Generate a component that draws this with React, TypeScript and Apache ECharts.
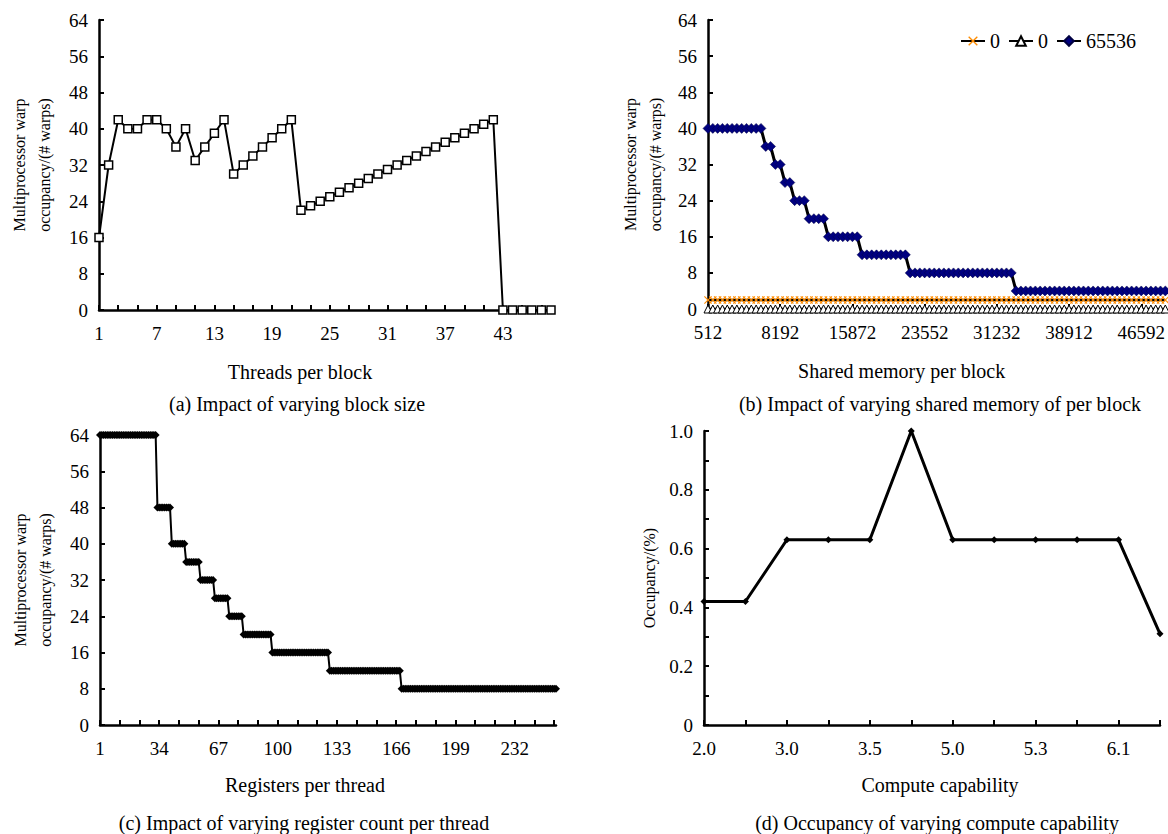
import React, { useEffect, useRef } from 'react';
import * as echarts from 'echarts';

// (a) Threads per block
const threadCategories = Array.from({ length: 48 }, (_, i) => String(i + 1));
const threadOccupancy = [
  16, 32, 42, 40, 40, 42, 42, 40, 36, 40, 33, 36, 39, 42, 30, 32, 34, 36, 38, 40, 42,
  22, 23, 24, 25, 26, 27, 28, 29, 30, 31, 32, 33, 34, 35, 36, 37, 38, 39, 40, 41, 42,
  0, 0, 0, 0, 0, 0,
];

// (b) Shared memory per block (run-length: [count, value])
const sharedCategories = Array.from({ length: 96 }, (_, i) => String(512 * (i + 1)));
const shared65536Steps: [number, number][] = [
  [12, 40], [2, 36], [2, 32], [2, 28], [3, 24], [4, 20], [7, 16], [10, 12], [22, 8], [32, 4],
];
const sharedZeroASteps: [number, number][] = [[96, 2]];
const sharedZeroBSteps: [number, number][] = [[96, 0]];

// (c) Registers per thread (run-length: [count, value])
const registerCategories = Array.from({ length: 255 }, (_, i) => String(i + 1));
const registerSteps: [number, number][] = [
  [32, 64], [8, 48], [8, 40], [8, 36], [8, 32], [8, 28], [8, 24], [16, 20], [32, 16], [40, 12], [87, 8],
];

// (d) Compute capability
const computeCategories = ['2.0', '2.1', '3.0', '3.2', '3.5', '3.7', '5.0', '5.2', '5.3', '6.0', '6.1', '6.2'];
const computeOccupancy = [0.42, 0.42, 0.63, 0.63, 0.63, 1.0, 0.63, 0.63, 0.63, 0.63, 0.63, 0.31];

const expand = (steps: [number, number][]) => {
  const out: number[] = [];
  steps.forEach(([n, v]) => {
    for (let i = 0; i < n; i++) out.push(v);
  });
  return out;
};

const FONT = 'Liberation Serif';
const crossPath = 'path://M0,1L1,0L5,4L9,0L10,1L6,5L10,9L9,10L5,6L1,10L0,9L4,5Z';

const axisLineStyle = { lineStyle: { color: '#000', width: 2.5 } };
const tickStyle = (interval?: number) => ({
  show: true,
  inside: true,
  length: 5,
  interval,
  lineStyle: { color: '#000', width: 2 },
});
const labelStyle = { color: '#000', fontFamily: FONT, fontSize: 19 };

const xAxisBase = (data: string[], gridIndex: number, tickInterval: number, labelInterval: number, name: string, nameGap: number, padding: number[]) => ({
  type: 'category' as const,
  gridIndex,
  data,
  boundaryGap: false,
  axisLine: axisLineStyle,
  axisTick: tickStyle(tickInterval),
  axisLabel: { ...labelStyle, interval: labelInterval, margin: 14 },
  splitLine: { show: false },
  name,
  nameLocation: 'middle' as const,
  nameGap,
  nameTextStyle: { color: '#000', fontFamily: FONT, fontSize: 20, padding },
});

const yAxisWarps = (gridIndex: number, nameGap: number) => ({
  type: 'value' as const,
  gridIndex,
  min: 0,
  max: 64,
  interval: 8,
  axisLine: { show: true, ...axisLineStyle },
  axisTick: tickStyle(),
  axisLabel: { ...labelStyle, margin: 11 },
  splitLine: { show: false },
  name: 'Multiprocessor warp\noccupancy/(# warps)',
  nameLocation: 'middle' as const,
  nameGap,
  nameTextStyle: { color: '#000', fontFamily: FONT, fontSize: 16, lineHeight: 25 },
});

const caption = (text: string, x: number, y: number) => ({
  type: 'text' as const,
  x,
  y,
  style: {
    text,
    fill: '#000',
    fontFamily: FONT,
    fontSize: 20,
    align: 'center',
    verticalAlign: 'middle',
  },
});

export default function App() {
  const ref = useRef<HTMLDivElement>(null);

  useEffect(() => {
    if (!ref.current) return;
    const chart = echarts.init(ref.current, undefined, { renderer: 'svg' });
    const option: any = {
      animation: false,
      backgroundColor: '#fff',
      textStyle: { fontFamily: FONT },
      grid: [
        { left: 99, top: 20, width: 452, height: 290 },
        { left: 708, top: 20, width: 460, height: 289 },
        { left: 100, top: 435, width: 456, height: 290 },
        { left: 704, top: 431, width: 456, height: 294 },
      ],
      legend: {
        left: 955,
        top: 26,
        itemGap: 8,
        itemWidth: 24,
        itemHeight: 12,
        data: ['0', '0 ', '65536'],
        formatter: (n: string) => n.trim(),
        textStyle: { color: '#000', fontFamily: FONT, fontSize: 20 },
      },
      xAxis: [
        xAxisBase(threadCategories, 0, 1, 5, 'Threads per block', 52, [0, 50, 0, 0]),
        xAxisBase(sharedCategories, 1, 14, 14, 'Shared memory per block', 52, [0, 70, 0, 0]),
        xAxisBase(registerCategories, 2, 10, 32, 'Registers per thread', 50, [0, 46, 0, 0]),
        xAxisBase(computeCategories, 3, 0, 1, 'Compute capability', 50, [0, 0, 0, 16]),
      ],
      yAxis: [
        yAxisWarps(0, 42),
        yAxisWarps(1, 40),
        yAxisWarps(2, 42),
        {
          type: 'value',
          gridIndex: 3,
          min: 0,
          max: 1,
          interval: 0.2,
          axisLine: { show: true, ...axisLineStyle },
          axisTick: tickStyle(),
          minorTick: { show: true, splitNumber: 2, length: 5, lineStyle: { color: '#000', width: 2 } },
          axisLabel: {
            ...labelStyle,
            margin: 11,
            formatter: (v: number) => (v === 0 ? '0' : v.toFixed(1)),
          },
          splitLine: { show: false },
          name: 'Occupancy/(%)',
          nameLocation: 'middle',
          nameGap: 47,
          nameTextStyle: { color: '#000', fontFamily: FONT, fontSize: 16 },
        },
      ],
      series: [
        {
          type: 'line',
          xAxisIndex: 0,
          yAxisIndex: 0,
          data: threadOccupancy,
          symbol: 'rect',
          symbolSize: 8,
          showAllSymbol: true,
          lineStyle: { color: '#000', width: 2 },
          itemStyle: { color: '#fff', borderColor: '#000', borderWidth: 1.5 },
        },
        {
          name: '0',
          type: 'line',
          xAxisIndex: 1,
          yAxisIndex: 1,
          data: expand(sharedZeroASteps),
          symbol: crossPath,
          symbolSize: 8,
          showAllSymbol: true,
          lineStyle: { color: '#000', width: 2.5 },
          itemStyle: { color: '#FF8C00' },
        },
        {
          name: '0 ',
          type: 'line',
          xAxisIndex: 1,
          yAxisIndex: 1,
          data: expand(sharedZeroBSteps),
          symbol: 'triangle',
          symbolSize: 8,
          showAllSymbol: true,
          lineStyle: { color: '#000', width: 2.5 },
          itemStyle: { color: '#fff', borderColor: '#000', borderWidth: 1 },
        },
        {
          name: '65536',
          type: 'line',
          xAxisIndex: 1,
          yAxisIndex: 1,
          data: expand(shared65536Steps),
          symbol: 'diamond',
          symbolSize: 10,
          showAllSymbol: true,
          lineStyle: { color: '#000', width: 3 },
          itemStyle: { color: '#000080', borderColor: '#000040', borderWidth: 0.5 },
        },
        {
          type: 'line',
          xAxisIndex: 2,
          yAxisIndex: 2,
          data: expand(registerSteps),
          symbol: 'diamond',
          symbolSize: 8,
          showAllSymbol: true,
          lineStyle: { color: '#000', width: 2 },
          itemStyle: { color: '#000' },
        },
        {
          type: 'line',
          xAxisIndex: 3,
          yAxisIndex: 3,
          data: computeOccupancy,
          symbol: 'diamond',
          symbolSize: 7,
          showAllSymbol: true,
          lineStyle: { color: '#000', width: 3 },
          itemStyle: { color: '#000' },
        },
      ],
      graphic: [
        caption('(a) Impact of varying block size', 297, 404),
        caption('(b) Impact of varying shared memory of per block', 940, 404),
        caption('(c) Impact of varying register count per thread', 304, 823),
        caption('(d) Occupancy of varying compute capability', 937, 823),
      ],
    };
    chart.setOption(option);
    return () => chart.dispose();
  }, []);

  return (
    <div
      ref={ref}
      style={{ position: 'absolute', left: 0, top: 0, width: 1168, height: 834, background: '#fff' }}
    />
  );
}
